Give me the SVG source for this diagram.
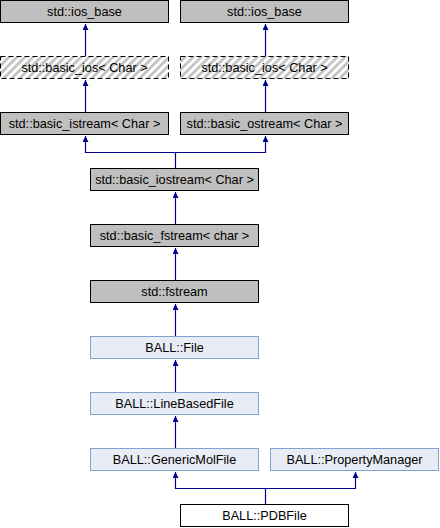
<svg xmlns="http://www.w3.org/2000/svg" width="440" height="528" viewBox="0 0 440 528">
<style>
  .ext rect { fill: #bfbfbf; stroke: #000000; stroke-width: 1; }
  .und rect { fill: url(#hatch); stroke: #000000; stroke-width: 1; stroke-dasharray: 5,3; }
  .doc rect { fill: #e8ecf4; stroke: #84a0d0; stroke-width: 1; }
  .cur rect { fill: #ffffff; stroke: #000000; stroke-width: 1; }
  text { font-family: "Liberation Sans", Arial, sans-serif; font-size: 12.7px; fill: #000000; text-anchor: middle; }
  .edge { fill: none; stroke: #00008b; stroke-width: 1.2; }
</style>
<defs>
  <pattern id="hatch" patternUnits="userSpaceOnUse" width="5.66" height="5.66" patternTransform="rotate(45)">
    <rect x="0" y="0" width="5.66" height="5.66" fill="#ffffff"/>
    <rect x="0" y="0" width="2.9" height="5.66" fill="#c4c4c4"/>
  </pattern>
  <marker id="arr" markerUnits="userSpaceOnUse" markerWidth="7" markerHeight="7" refX="6" refY="3" orient="auto">
    <path d="M0,0 L6,3 L0,6 z" fill="#00008b"/>
  </marker>
</defs>

<g id="connectors">
  <path class="edge" d="M85.5,56 V24" marker-end="url(#arr)"/>
  <path class="edge" d="M265.5,56 V24" marker-end="url(#arr)"/>
  <path class="edge" d="M85.5,112 V80" marker-end="url(#arr)"/>
  <path class="edge" d="M265.5,112 V80" marker-end="url(#arr)"/>
  <path class="edge" d="M175.5,168 V152.5 H85.5 V136" marker-end="url(#arr)"/>
  <path class="edge" d="M175.5,152.5 H265.5 V136" marker-end="url(#arr)"/>
  <path class="edge" d="M175.5,224 V192" marker-end="url(#arr)"/>
  <path class="edge" d="M175.5,280 V248" marker-end="url(#arr)"/>
  <path class="edge" d="M175.5,336 V304" marker-end="url(#arr)"/>
  <path class="edge" d="M175.5,392 V360" marker-end="url(#arr)"/>
  <path class="edge" d="M175.5,448 V416" marker-end="url(#arr)"/>
  <path class="edge" d="M265.5,504 V488.5 H175.5 V472" marker-end="url(#arr)"/>
  <path class="edge" d="M265.5,488.5 H355.5 V472" marker-end="url(#arr)"/>
</g>

<g id="ios_base_1" class="ext">
  <rect x="0.5" y="0.5" width="168" height="22"/>
  <text x="84.5" y="16">std::ios_base</text>
</g>
<g id="ios_base_2" class="ext">
  <rect x="180.5" y="0.5" width="168" height="22"/>
  <text x="264.5" y="16">std::ios_base</text>
</g>
<g id="basic_ios_1" class="und">
  <rect x="0.5" y="56.5" width="168" height="22"/>
  <text x="84.5" y="72">std::basic_ios&lt; Char &gt;</text>
</g>
<g id="basic_ios_2" class="und">
  <rect x="180.5" y="56.5" width="168" height="22"/>
  <text x="264.5" y="72">std::basic_ios&lt; Char &gt;</text>
</g>
<g id="basic_istream" class="ext">
  <rect x="0.5" y="112.5" width="168" height="22"/>
  <text x="84.5" y="128">std::basic_istream&lt; Char &gt;</text>
</g>
<g id="basic_ostream" class="ext">
  <rect x="180.5" y="112.5" width="168" height="22"/>
  <text x="264.5" y="128">std::basic_ostream&lt; Char &gt;</text>
</g>
<g id="basic_iostream" class="ext">
  <rect x="90.5" y="168.5" width="168" height="22"/>
  <text x="174.5" y="184">std::basic_iostream&lt; Char &gt;</text>
</g>
<g id="basic_fstream" class="ext">
  <rect x="90.5" y="224.5" width="168" height="22"/>
  <text x="174.5" y="240">std::basic_fstream&lt; char &gt;</text>
</g>
<g id="fstream" class="ext">
  <rect x="90.5" y="280.5" width="168" height="22"/>
  <text x="174.5" y="296">std::fstream</text>
</g>
<g id="File" class="doc">
  <rect x="90.5" y="336.5" width="168" height="22"/>
  <text x="174.5" y="352">BALL::File</text>
</g>
<g id="LineBasedFile" class="doc">
  <rect x="90.5" y="392.5" width="168" height="22"/>
  <text x="174.5" y="408">BALL::LineBasedFile</text>
</g>
<g id="GenericMolFile" class="doc">
  <rect x="90.5" y="448.5" width="168" height="22"/>
  <text x="174.5" y="464">BALL::GenericMolFile</text>
</g>
<g id="PropertyManager" class="doc">
  <rect x="270.5" y="448.5" width="168" height="22"/>
  <text x="354.5" y="464">BALL::PropertyManager</text>
</g>
<g id="PDBFile" class="cur">
  <rect x="180.5" y="504.5" width="168" height="22"/>
  <text x="264.5" y="520">BALL::PDBFile</text>
</g>
</svg>
